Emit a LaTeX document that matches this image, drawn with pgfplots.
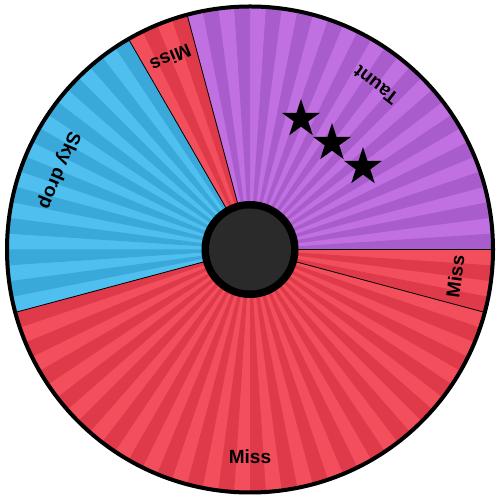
\documentclass[border=0pt]{standalone}
\usepackage{pgfplots}
\pgfplotsset{compat=1.18}
\usepackage{fontspec}
\setmainfont{Liberation Sans}
\usetikzlibrary{calc}
\definecolor{purL}{HTML}{C070E0}
\definecolor{purD}{HTML}{A95CCB}
\definecolor{redL}{HTML}{F24E5C}
\definecolor{redD}{HTML}{DE3A4A}
\definecolor{bluL}{HTML}{4FBFF0}
\definecolor{bluD}{HTML}{3AA9DA}
\definecolor{hubc}{HTML}{2A2A2A}

\pgfdeclareplotmark{fstar}{%
  \pgfpathmoveto{\pgfqpointpolar{90}{\pgfplotmarksize}}%
  \pgfpathlineto{\pgfqpointpolar{126}{0.382\pgfplotmarksize}}%
  \pgfpathlineto{\pgfqpointpolar{162}{\pgfplotmarksize}}%
  \pgfpathlineto{\pgfqpointpolar{198}{0.382\pgfplotmarksize}}%
  \pgfpathlineto{\pgfqpointpolar{234}{\pgfplotmarksize}}%
  \pgfpathlineto{\pgfqpointpolar{270}{0.382\pgfplotmarksize}}%
  \pgfpathlineto{\pgfqpointpolar{306}{\pgfplotmarksize}}%
  \pgfpathlineto{\pgfqpointpolar{342}{0.382\pgfplotmarksize}}%
  \pgfpathlineto{\pgfqpointpolar{18}{\pgfplotmarksize}}%
  \pgfpathlineto{\pgfqpointpolar{54}{0.382\pgfplotmarksize}}%
  \pgfpathclose\pgfusepathqfill}

% wedge: start angle, end angle, light colour, dark colour, label
\newcommand\wedgeseg[5]{%
  \fill[#3] (axis cs:0,0) -- ++(#1:243pt) arc[start angle=#1,end angle=#2,radius=243pt] -- cycle;
  \pgfmathsetmacro\wSecond{#1+7.5}%
  \pgfmathsetmacro\wLast{#2-7.5}%
  \foreach \a in {#1,\wSecond,...,\wLast}{%
    \fill[#4] (axis cs:0,0) -- ++(\a:243pt) arc[start angle=\a,delta angle=3.75,radius=243pt] -- cycle;
  }%
  \pgfmathsetmacro\wMid{(#1+#2)/2}%
  \pgfmathsetmacro\wRot{\wMid+90}%
  \node[rotate=\wRot, font=\fontsize{19}{22}\selectfont\bfseries, inner sep=0pt]
     at ($(axis cs:0,0)+(\wMid:207pt)$) {#5};
}

\begin{document}
\begin{tikzpicture}
\begin{axis}[scale only axis, width=500pt, height=500pt,
  xmin=-250, xmax=250, ymin=-250.5, ymax=249.5, hide axis, clip=false]
\pgfplotsextra{
  \wedgeseg{0}{105}{purL}{purD}{Taunt}
  \wedgeseg{105}{120}{redL}{redD}{Miss}
  \wedgeseg{120}{195}{bluL}{bluD}{Sky drop}
  \wedgeseg{195}{345}{redL}{redD}{Miss}
  \wedgeseg{345}{360}{redL}{redD}{Miss}
  \foreach \b in {0,105,120,195,345}{
    \draw[black, line width=0.8pt] ($(axis cs:0,0)+(\b:45pt)$) -- ($(axis cs:0,0)+(\b:243pt)$);
  }
  \draw[black, line width=4pt] (axis cs:0,0) circle[radius=243pt];
  \fill[black] (axis cs:0,0) circle[radius=48.5pt];
  \fill[hubc] (axis cs:0,0) circle[radius=41pt];
}
\addplot[only marks, mark=fstar, mark size=20pt, black] coordinates {(51,130.5) (82,106.5) (113,82.5)};
\end{axis}
\pgfresetboundingbox
\path (current axis.south west) rectangle (current axis.north east);
\end{tikzpicture}
\end{document}
